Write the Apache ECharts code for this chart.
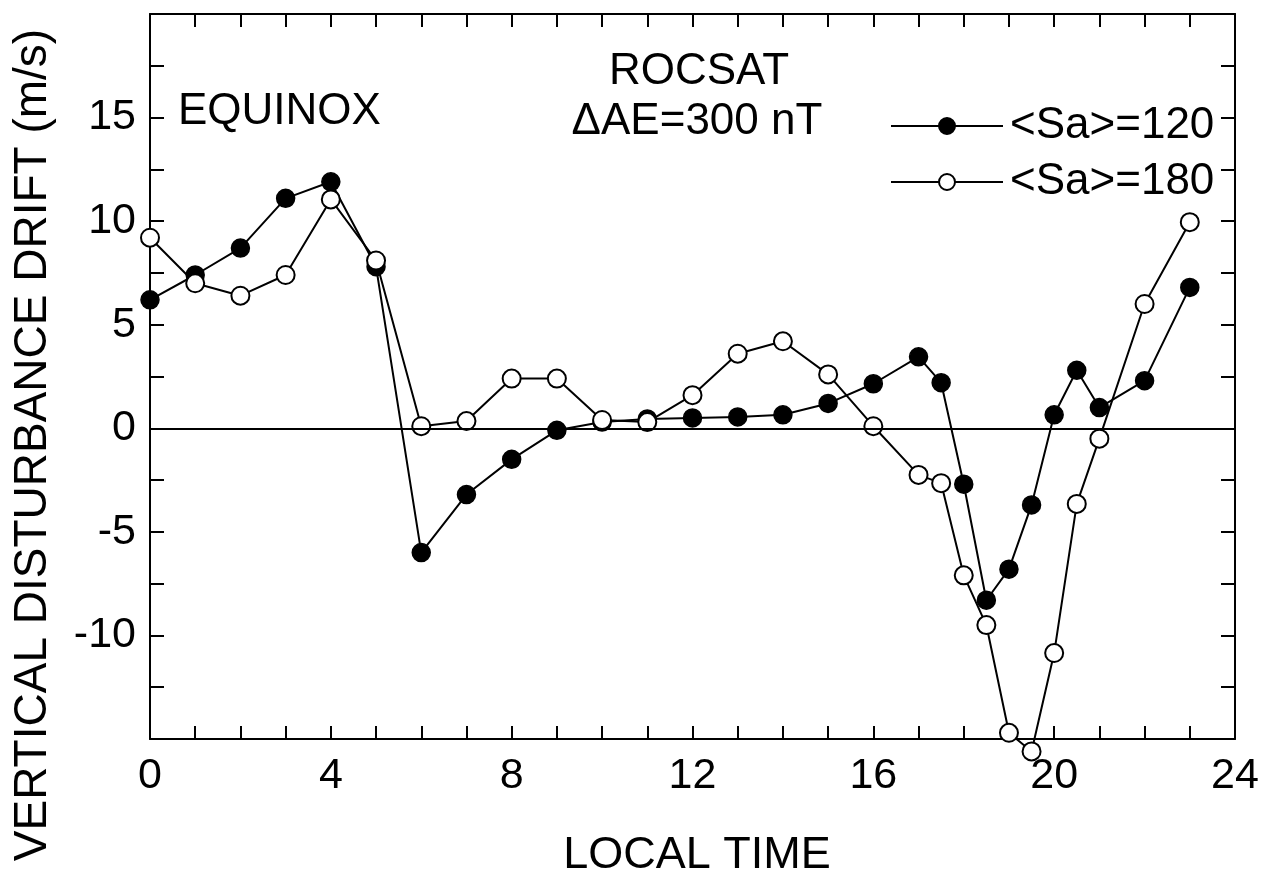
<!DOCTYPE html>
<html>
<head>
<meta charset="utf-8">
<script src="https://cdn.jsdelivr.net/npm/echarts@6/dist/echarts.min.js"></script>
<style>
html,body{margin:0;padding:0;background:#fff;}
#c{width:1267px;height:879px;}
</style>
</head>
<body>
<div id="c"></div>
<script>
// Local time (hours)
var hours = [0,1,2,3,4,5,6,7,8,9,10,11,12,13,14,15,16,17,17.5,18,18.5,19,19.5,20,20.5,21,22,23];
// <Sa>=120 (filled circles)
var sa120 = [6.2,7.4,8.7,11.1,11.9,7.8,-6.0,-3.2,-1.5,-0.1,0.3,0.45,0.5,0.55,0.65,1.2,2.15,3.45,2.2,-2.7,-8.3,-6.8,-3.7,0.65,2.8,1.0,2.3,6.8];
// <Sa>=180 (open circles)
var sa180 = [9.2,7.0,6.4,7.4,11.05,8.1,0.1,0.35,2.4,2.4,0.4,0.3,1.6,3.6,4.2,2.6,0.1,-2.25,-2.65,-7.1,-9.5,-14.7,-15.6,-10.85,-3.65,-0.5,6.0,9.95];
var seriesNames = ['<Sa>=120', '<Sa>=180'];
var xTitle = 'LOCAL TIME';
var yTitle = 'VERTICAL DISTURBANCE DRIFT (m/s)';
var notes = ['EQUINOX', 'ROCSAT', '\u0394AE=300 nT'];

function pairs(xs, ys){ return xs.map(function(x,i){ return [x, ys[i]]; }); }

var FONT = '"Liberation Sans", Arial, Helvetica, sans-serif';
var chart = echarts.init(document.getElementById('c'));
function axLine(){ return {show:true, onZero:false, lineStyle:{color:'#000', width:2}}; }
function tick(len){ return {show:true, inside:true, length:len, lineStyle:{color:'#000', width:2}}; }
function minor(n, len){ return {show:true, splitNumber:n, length:len, lineStyle:{color:'#000', width:2}}; }
chart.setOption({
  backgroundColor:'#fff',
  animation:false,
  grid:{left:150, right:32, top:14, bottom:140},
  xAxis:[{
    type:'value', min:0, max:24, interval:4, position:'bottom',
    axisLine:axLine(), axisTick:tick(13), minorTick:minor(4, 13),
    axisLabel:{color:'#000', fontSize:43, fontFamily:FONT, margin:16},
    splitLine:{show:false}, minorSplitLine:{show:false}
  },{
    type:'value', min:0, max:24, interval:4, position:'top',
    axisLine:axLine(), axisTick:tick(13), minorTick:minor(4, 13),
    axisLabel:{show:false}, splitLine:{show:false}, minorSplitLine:{show:false}
  }],
  yAxis:[{
    type:'value', min:-15, max:20, interval:5, position:'left',
    axisLine:axLine(), axisTick:tick(14), minorTick:minor(2, 14),
    axisLabel:{color:'#000', fontSize:43, fontFamily:FONT, margin:14, showMinLabel:false, showMaxLabel:false},
    splitLine:{show:false}
  },{
    type:'value', min:-15, max:20, interval:5, position:'right',
    axisLine:axLine(), axisTick:tick(14), minorTick:minor(2, 14),
    axisLabel:{show:false}, splitLine:{show:false}
  }],
  legend:{
    orient:'vertical', left:885, top:99, itemWidth:112, itemHeight:20, itemGap:12,
    data:seriesNames,
    textStyle:{color:'#000', fontSize:44, fontFamily:FONT, padding:[0,0,0,2]}
  },
  series:[{
    name:seriesNames[0], type:'line', data:pairs(hours, sa120),
    xAxisIndex:0, yAxisIndex:0, clip:false,
    symbol:'circle', symbolSize:18,
    lineStyle:{color:'#000', width:2},
    itemStyle:{color:'#000', borderColor:'#000', borderWidth:1.5},
    markLine:{silent:true, symbol:'none', label:{show:false},
      lineStyle:{color:'#000', width:2, type:'solid'},
      data:[{yAxis:0}]},
    z:3
  },{
    name:seriesNames[1], type:'line', data:pairs(hours, sa180),
    xAxisIndex:0, yAxisIndex:0, clip:false,
    symbol:'circle', symbolSize:18,
    lineStyle:{color:'#000', width:2},
    itemStyle:{color:'#fff', borderColor:'#000', borderWidth:2},
    z:4
  }],
  graphic:[
    {type:'text', left:178, top:90, style:{text:notes[0], font:'44px '+FONT, fill:'#000'}},
    {type:'text', x:699, y:72, style:{text:notes[1], font:'44px '+FONT, fill:'#000', textAlign:'center', textVerticalAlign:'middle'}},
    {type:'text', x:697, y:122, style:{text:notes[2], font:'44px '+FONT, fill:'#000', textAlign:'center', textVerticalAlign:'middle'}},
    {type:'text', x:697, y:856, style:{text:xTitle, font:'45px '+FONT, fill:'#000', textAlign:'center', textVerticalAlign:'middle'}},
    {type:'text', x:33, y:445, rotation:Math.PI/2, style:{text:yTitle, font:'46px '+FONT, fill:'#000', textAlign:'center', textVerticalAlign:'middle'}}
  ]
});
</script>
</body>
</html>
